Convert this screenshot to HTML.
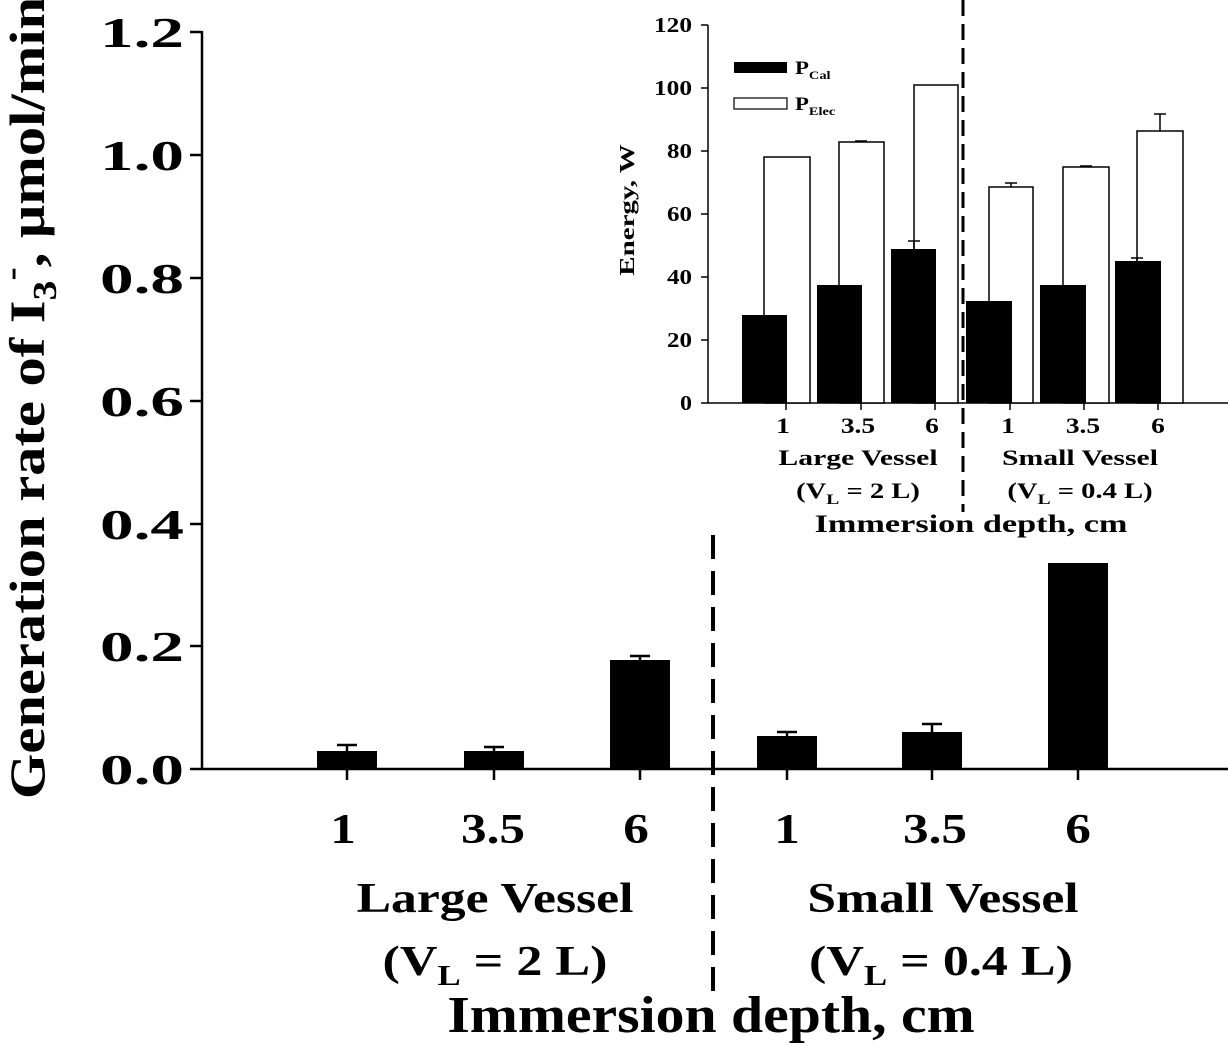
<!DOCTYPE html>
<html><head><meta charset="utf-8"><style>
body{margin:0;background:#fff}
svg{display:block}
text{font-family:"Liberation Serif",serif;font-weight:bold;fill:#000}
</style></head><body>
<svg width="1228" height="1046" viewBox="0 0 1228 1046" xmlns="http://www.w3.org/2000/svg">
<!-- main axes -->
<g stroke="#000" stroke-width="2.5" fill="none">
<line x1="202" y1="31" x2="202" y2="770"/>
<line x1="202" y1="769" x2="1228" y2="769"/>
<line x1="190" y1="32" x2="202" y2="32"/>
<line x1="190" y1="155" x2="202" y2="155"/>
<line x1="190" y1="278" x2="202" y2="278"/>
<line x1="190" y1="401" x2="202" y2="401"/>
<line x1="190" y1="524" x2="202" y2="524"/>
<line x1="190" y1="646" x2="202" y2="646"/>
<line x1="190" y1="769" x2="202" y2="769"/>
<line x1="347" y1="769" x2="347" y2="780"/>
<line x1="494" y1="769" x2="494" y2="780"/>
<line x1="640" y1="769" x2="640" y2="780"/>
<line x1="787" y1="769" x2="787" y2="780"/>
<line x1="932" y1="769" x2="932" y2="780"/>
<line x1="1078" y1="769" x2="1078" y2="780"/>
</g>
<line x1="713" y1="535" x2="713" y2="1000" stroke="#000" stroke-width="4" stroke-dasharray="24,12"/>
<!-- main bars -->
<g fill="#000">
<rect x="317" y="751" width="60" height="18"/>
<rect x="464" y="751" width="60" height="18"/>
<rect x="610" y="660" width="60" height="109"/>
<rect x="757" y="736" width="60" height="33"/>
<rect x="902" y="732" width="60" height="37"/>
<rect x="1048" y="563" width="60" height="206"/>
</g>
<g stroke="#000" stroke-width="2.5">
<line x1="347" y1="745" x2="347" y2="751"/><line x1="337" y1="745" x2="357" y2="745"/>
<line x1="494" y1="747" x2="494" y2="751"/><line x1="484" y1="747" x2="504" y2="747"/>
<line x1="640" y1="656" x2="640" y2="660"/><line x1="630" y1="656" x2="650" y2="656"/>
<line x1="787" y1="732" x2="787" y2="736"/><line x1="777" y1="732" x2="797" y2="732"/>
<line x1="932" y1="724" x2="932" y2="732"/><line x1="922" y1="724" x2="942" y2="724"/>
</g>
<!-- main tick labels -->
<g font-size="42" lengthAdjust="spacingAndGlyphs">
<text x="100" y="47" textLength="84" lengthAdjust="spacingAndGlyphs">1.2</text>
<text x="100" y="170" textLength="84" lengthAdjust="spacingAndGlyphs">1.0</text>
<text x="100" y="293" textLength="84" lengthAdjust="spacingAndGlyphs">0.8</text>
<text x="100" y="416" textLength="84" lengthAdjust="spacingAndGlyphs">0.6</text>
<text x="100" y="539" textLength="84" lengthAdjust="spacingAndGlyphs">0.4</text>
<text x="100" y="661" textLength="84" lengthAdjust="spacingAndGlyphs">0.2</text>
<text x="100" y="784" textLength="84" lengthAdjust="spacingAndGlyphs">0.0</text>
</g>
<g font-size="42" text-anchor="middle">
<g transform="translate(343,843) scale(1.22,1)"><text x="0" y="0">1</text></g>
<g transform="translate(493,843) scale(1.22,1)"><text x="0" y="0">3.5</text></g>
<g transform="translate(636,843) scale(1.22,1)"><text x="0" y="0">6</text></g>
<g transform="translate(787,843) scale(1.22,1)"><text x="0" y="0">1</text></g>
<g transform="translate(935,843) scale(1.22,1)"><text x="0" y="0">3.5</text></g>
<g transform="translate(1078,843) scale(1.22,1)"><text x="0" y="0">6</text></g>
<g transform="translate(495,912) scale(1.23,1)"><text x="0" y="0">Large Vessel</text></g>
<g transform="translate(495,975) scale(1.24,1)"><text x="0" y="0">(V<tspan font-size="28" dy="10">L</tspan><tspan dy="-10"> = 2 L)</tspan></text></g>
<g transform="translate(943,912) scale(1.23,1)"><text x="0" y="0">Small Vessel</text></g>
<g transform="translate(941,975) scale(1.24,1)"><text x="0" y="0">(V<tspan font-size="28" dy="10">L</tspan><tspan dy="-10"> = 0.4 L)</tspan></text></g>
</g>
<g transform="translate(711,1032) scale(1.11,1)"><text x="0" y="0" font-size="52" text-anchor="middle">Immersion depth, cm</text></g>
<g transform="translate(44,398) rotate(-90) scale(1.17,1)"><text x="0" y="0" font-size="50" text-anchor="middle">Generation rate of I<tspan font-size="34" dy="12">3</tspan><tspan font-size="34" dy="-34">-</tspan><tspan dy="22">, μmol/min</tspan></text></g>

<!-- inset -->
<g stroke="#000" stroke-width="1.5" fill="none">
<line x1="708" y1="25" x2="708" y2="403"/>
<line x1="708" y1="403" x2="1228" y2="403"/>
<line x1="701" y1="25" x2="708" y2="25"/>
<line x1="701" y1="88" x2="708" y2="88"/>
<line x1="701" y1="151" x2="708" y2="151"/>
<line x1="701" y1="214" x2="708" y2="214"/>
<line x1="701" y1="277" x2="708" y2="277"/>
<line x1="701" y1="340" x2="708" y2="340"/>
<line x1="701" y1="403" x2="708" y2="403"/>
<line x1="786" y1="403" x2="786" y2="410"/>
<line x1="861" y1="403" x2="861" y2="410"/>
<line x1="935" y1="403" x2="935" y2="410"/>
<line x1="1010" y1="403" x2="1010" y2="410"/>
<line x1="1084" y1="403" x2="1084" y2="410"/>
<line x1="1158" y1="403" x2="1158" y2="410"/>
</g>
<g fill="#fff" stroke="#000" stroke-width="1.5">
<rect x="764" y="157" width="46" height="246"/>
<rect x="839" y="142" width="45" height="261"/>
<rect x="914" y="85" width="44" height="318"/>
<rect x="989" y="187" width="44" height="216"/>
<rect x="1063" y="167" width="46" height="236"/>
<rect x="1137" y="131" width="46" height="272"/>
</g>
<g fill="#000">
<rect x="742" y="315" width="45" height="88"/>
<rect x="817" y="285" width="45" height="118"/>
<rect x="891" y="249" width="45" height="154"/>
<rect x="966" y="301" width="46" height="102"/>
<rect x="1040" y="285" width="46" height="118"/>
<rect x="1115" y="261" width="46" height="142"/>
</g>
<g stroke="#000" stroke-width="1.5">
<line x1="914" y1="241" x2="914" y2="249"/><line x1="908" y1="241" x2="920" y2="241"/>
<line x1="1137" y1="258" x2="1137" y2="261"/><line x1="1131" y1="258" x2="1143" y2="258"/>
<line x1="1011" y1="183" x2="1011" y2="187"/><line x1="1005" y1="183" x2="1017" y2="183"/>
<line x1="1160" y1="114" x2="1160" y2="131"/><line x1="1154" y1="114" x2="1166" y2="114"/>
<line x1="1086" y1="166" x2="1086" y2="167"/><line x1="1080" y1="166" x2="1092" y2="166"/>
<line x1="861" y1="141" x2="861" y2="142"/><line x1="855" y1="141" x2="867" y2="141"/>
</g>
<line x1="963" y1="0" x2="963" y2="512" stroke="#000" stroke-width="3" stroke-dasharray="16,8"/>
<rect x="734" y="62" width="53" height="11" fill="#000"/>
<rect x="734" y="98" width="53" height="11" fill="#fff" stroke="#000" stroke-width="1.2"/>
<g transform="translate(795,74) scale(1.2,1)"><text x="0" y="0" font-size="19">P<tspan font-size="12" dy="5">Cal</tspan></text></g>
<g transform="translate(795,110) scale(1.2,1)"><text x="0" y="0" font-size="19">P<tspan font-size="12" dy="5">Elec</tspan></text></g>
<g font-size="21">
<text x="654" y="32" textLength="38" lengthAdjust="spacingAndGlyphs">120</text>
<text x="654" y="95" textLength="38" lengthAdjust="spacingAndGlyphs">100</text>
<text x="667" y="158" textLength="25" lengthAdjust="spacingAndGlyphs">80</text>
<text x="667" y="221" textLength="25" lengthAdjust="spacingAndGlyphs">60</text>
<text x="667" y="284" textLength="25" lengthAdjust="spacingAndGlyphs">40</text>
<text x="667" y="347" textLength="25" lengthAdjust="spacingAndGlyphs">20</text>
<text x="680" y="410" textLength="12" lengthAdjust="spacingAndGlyphs">0</text>
</g>
<g transform="translate(634,210) rotate(-90) scale(1.38,1)"><text x="0" y="0" font-size="21" text-anchor="middle">Energy, W</text></g>
<g font-size="22" text-anchor="middle">
<g transform="translate(783,433) scale(1.25,1)"><text x="0" y="0">1</text></g>
<g transform="translate(858,433) scale(1.25,1)"><text x="0" y="0">3.5</text></g>
<g transform="translate(932,433) scale(1.25,1)"><text x="0" y="0">6</text></g>
<g transform="translate(1008,433) scale(1.25,1)"><text x="0" y="0">1</text></g>
<g transform="translate(1083,433) scale(1.25,1)"><text x="0" y="0">3.5</text></g>
<g transform="translate(1158,433) scale(1.25,1)"><text x="0" y="0">6</text></g>
<g transform="translate(858,465) scale(1.35,1)"><text x="0" y="0">Large Vessel</text></g>
<g transform="translate(858,498) scale(1.3,1)"><text x="0" y="0">(V<tspan font-size="15" dy="6">L</tspan><tspan dy="-6"> = 2 L)</tspan></text></g>
<g transform="translate(1080,465) scale(1.35,1)"><text x="0" y="0">Small Vessel</text></g>
<g transform="translate(1080,498) scale(1.3,1)"><text x="0" y="0">(V<tspan font-size="15" dy="6">L</tspan><tspan dy="-6"> = 0.4 L)</tspan></text></g>
<g transform="translate(971,532) scale(1.37,1)"><text x="0" y="0" font-size="25">Immersion depth, cm</text></g>
</g>
</svg>
</body></html>
